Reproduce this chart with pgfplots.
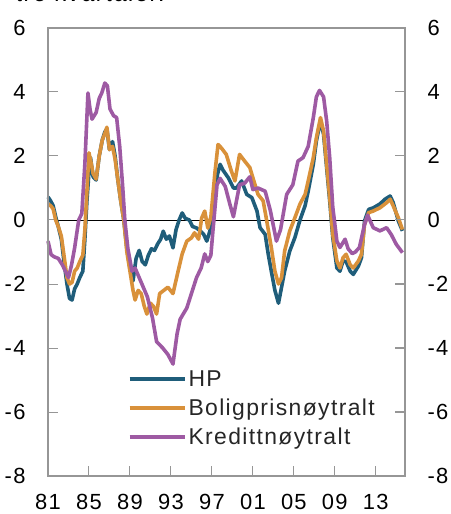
\documentclass[border=0pt]{standalone}
\usepackage{fontspec}
\setmainfont{Liberation Sans}[LetterSpace=6]
\usepackage{pgfplots}
\pgfplotsset{compat=1.18}
\usetikzlibrary{calc}
\definecolor{hpblue}{RGB}{31,93,122}
\definecolor{bpnorange}{RGB}{217,145,58}
\definecolor{krpurple}{RGB}{158,90,163}
\definecolor{frame}{RGB}{150,150,150}

\pgfplotsset{
  base/.style={
    width=357bp, height=448bp, scale only axis,
    xmin=1981, xmax=2015.85, ymin=-8, ymax=6,
    ytick={-8,-6,...,6},
    yticklabels={-8,-6,-4,-2,0,2,4,6},
    tick align=inside,
    major tick length=10bp,
    tick style={frame, line width=1bp},
    axis line style={frame, line width=1.3bp},
    tick label style={font=\fontsize{22}{26}\selectfont},
    clip=false,
  },
}

\begin{document}
\begin{tikzpicture}
\begin{axis}[base,
    xtick={1985,1989,...,2013}, xtick pos=bottom,
    extra x ticks={1981}, extra x tick style={major tick length=0pt},
    extra x tick labels={81},
    xticklabels={85,89,93,97,01,05,09,13},
    ytick pos=both, yticklabel pos=left,
    yticklabel style={xshift=-19bp},
    xticklabel style={yshift=-15bp},
    legend style={draw=none, fill=none, at={(0.215,0.245)}, anchor=north west,
      font=\fontsize{23}{25}\selectfont, row sep=7bp, text=black!85},
    legend cell align=left,
    legend image code/.code={\draw[#1] (0bp,0bp) -- (55bp,0bp);},
]
\coordinate (SW) at (rel axis cs:0,0);
\addplot[black, line width=0.9bp, forget plot] coordinates {(1981.9,0)(2014.85,0)};
\addplot[black, line width=0.9bp, forget plot] coordinates {(1982.1,6)(2014.65,6)};

\addplot[hpblue, line width=3.6bp, line join=round] coordinates {
(1981.0,0.72)(1981.25,0.6)(1981.5,0.45)(1981.75,0.1)(1982.0,-0.2)(1982.3,-0.6)
(1982.6,-1.4)(1982.85,-2.0)(1983.1,-2.45)(1983.35,-2.5)(1983.6,-2.15)(1983.85,-2.0)
(1984.1,-1.8)(1984.4,-1.6)(1984.6,-0.6)(1984.8,0.6)(1985.0,1.5)(1985.15,1.95)
(1985.4,1.35)(1985.7,1.25)(1986.0,2.0)(1986.3,2.5)(1986.55,2.75)(1986.75,2.85)
(1987.0,2.2)(1987.3,2.45)(1987.55,2.0)(1987.8,1.3)(1988.1,0.6)(1988.4,0.0)
(1988.7,-0.9)(1989.0,-1.5)(1989.3,-1.9)(1989.6,-1.2)(1989.9,-0.95)(1990.2,-1.3)
(1990.5,-1.4)(1990.8,-1.1)(1991.1,-0.9)(1991.4,-0.95)(1991.7,-0.75)(1992.0,-0.6)
(1992.25,-0.35)(1992.55,-0.6)(1992.85,-0.5)(1993.2,-0.87)(1993.5,-0.3)(1993.8,0.0)
(1994.1,0.22)(1994.4,0.05)(1994.8,0.0)(1995.1,-0.2)(1995.5,-0.25)(1995.9,-0.35)
(1996.2,-0.45)(1996.5,-0.66)(1996.8,-0.35)(1997.0,-0.03)(1997.3,0.8)(1997.55,1.43)
(1997.8,1.74)(1998.1,1.55)(1998.6,1.32)(1999.1,1.0)(1999.4,1.0)(1999.9,1.22)
(2000.4,0.8)(2000.9,0.7)(2001.4,0.28)(2001.7,-0.24)(2002.2,-0.45)(2002.5,-1.07)
(2002.8,-1.6)(2003.15,-2.2)(2003.5,-2.6)(2003.8,-2.1)(2004.1,-1.6)(2004.6,-0.97)
(2005.1,-0.55)(2005.6,0.0)(2006.1,0.45)(2006.4,0.9)(2006.9,1.74)(2007.2,2.47)
(2007.6,3.1)(2007.9,2.68)(2008.2,1.64)(2008.5,0.6)(2008.8,-0.55)(2009.2,-1.5)
(2009.5,-1.6)(2009.8,-1.28)(2010.1,-1.3)(2010.5,-1.6)(2010.8,-1.7)(2011.3,-1.44)
(2011.6,-1.18)(2011.9,-0.03)(2012.3,0.33)(2012.75,0.38)(2013.4,0.5)(2013.9,0.65)
(2014.4,0.75)(2014.7,0.54)(2015.2,-0.03)(2015.6,-0.34)
};
\addlegendentry{HP}

\addplot[bpnorange, line width=3.6bp, line join=round] coordinates {
(1981.0,0.5)(1981.25,0.45)(1981.5,0.35)(1981.75,0.0)(1982.0,-0.2)(1982.3,-0.5)
(1982.6,-1.2)(1982.85,-1.8)(1983.1,-2.0)(1983.35,-1.95)(1983.6,-1.6)(1983.85,-1.5)
(1984.1,-1.3)(1984.4,-1.1)(1984.6,-0.3)(1984.8,0.9)(1985.0,2.1)(1985.2,1.8)
(1985.4,1.45)(1985.7,1.28)(1986.0,2.0)(1986.3,2.5)(1986.55,2.7)(1986.75,2.9)
(1987.0,2.2)(1987.3,2.3)(1987.55,1.9)(1987.8,1.3)(1988.1,0.6)(1988.4,0.0)
(1988.7,-1.0)(1989.0,-1.6)(1989.3,-2.2)(1989.5,-2.5)(1989.8,-2.2)(1990.1,-2.3)
(1990.4,-2.7)(1990.65,-2.94)(1991.0,-2.6)(1991.3,-2.7)(1991.6,-2.94)(1991.9,-2.3)
(1992.3,-2.2)(1992.7,-2.1)(1993.2,-2.3)(1993.7,-1.6)(1994.1,-1.06)(1994.55,-0.66)
(1995.0,-0.56)(1995.3,-0.4)(1995.7,-0.6)(1996.0,0.06)(1996.3,0.28)(1996.6,-0.25)
(1996.9,0.1)(1997.3,1.5)(1997.6,2.36)(1997.9,2.26)(1998.4,2.05)(1998.9,1.53)
(1999.25,1.22)(1999.7,2.05)(2000.2,1.84)(2000.7,1.64)(2001.0,1.32)(2001.5,0.8)
(2002.0,0.6)(2002.3,0.07)(2002.8,-0.86)(2003.15,-1.6)(2003.5,-2.0)(2003.8,-1.8)
(2004.1,-0.97)(2004.6,-0.34)(2005.1,0.07)(2005.6,0.5)(2006.1,0.8)(2006.4,1.22)
(2006.9,1.95)(2007.2,2.57)(2007.6,3.2)(2007.9,2.78)(2008.2,1.74)(2008.5,0.7)
(2008.8,-0.45)(2009.2,-1.28)(2009.5,-1.5)(2009.8,-1.18)(2010.1,-1.07)(2010.5,-1.4)
(2010.8,-1.5)(2011.3,-1.28)(2011.6,-1.07)(2011.9,-0.14)(2012.3,0.23)(2012.75,0.28)
(2013.4,0.38)(2014.05,0.54)(2014.4,0.65)(2014.7,0.44)(2015.2,0.07)(2015.6,-0.3)
};
\addlegendentry{Boligprisnøytralt}

\addplot[krpurple, line width=3.6bp, line join=round] coordinates {
(1981.0,-0.66)(1981.3,-1.08)(1981.6,-1.15)(1982.0,-1.2)(1982.4,-1.4)(1982.7,-1.6)
(1983.0,-1.8)(1983.3,-1.4)(1983.6,-0.87)(1984.0,0.0)(1984.3,0.2)(1984.6,1.76)
(1984.9,3.97)(1985.1,3.47)(1985.3,3.15)(1985.7,3.36)(1986.0,3.8)(1986.25,3.97)
(1986.55,4.28)(1986.8,4.19)(1987.05,3.47)(1987.4,3.26)(1987.7,3.2)(1988.0,2.3)
(1988.3,1.0)(1988.5,0.0)(1988.8,-0.9)(1989.2,-1.6)(1989.5,-1.5)(1989.9,-1.8)
(1990.3,-2.1)(1990.7,-2.4)(1991.2,-3.06)(1991.6,-3.8)(1992.2,-4.0)(1992.7,-4.2)
(1993.2,-4.5)(1993.6,-3.56)(1993.9,-3.1)(1994.55,-2.75)(1995.0,-2.3)(1995.5,-1.8)
(1995.95,-1.5)(1996.3,-1.06)(1996.6,-1.3)(1996.9,-1.1)(1997.1,-0.34)(1997.5,1.1)
(1997.8,1.3)(1998.3,1.05)(1998.75,0.5)(1999.1,0.1)(1999.7,1.1)(2000.2,1.15)
(2000.7,1.35)(2001.0,0.95)(2001.5,1.0)(2002.2,0.9)(2002.7,0.3)(2003.3,-0.66)
(2003.7,-0.3)(2004.3,0.8)(2004.9,1.1)(2005.4,1.84)(2005.9,1.95)(2006.4,2.3)
(2006.9,3.2)(2007.2,3.85)(2007.5,4.05)(2007.9,3.85)(2008.2,3.1)(2008.5,1.95)
(2008.8,0.4)(2009.2,-0.66)(2009.5,-0.86)(2010.0,-0.6)(2010.3,-0.9)(2010.7,-1.05)
(2011.0,-1.0)(2011.4,-0.86)(2011.9,-0.14)(2012.2,0.15)(2012.75,-0.24)(2013.4,-0.34)
(2014.05,-0.24)(2014.5,-0.45)(2015.0,-0.76)(2015.6,-1.02)
};
\addlegendentry{Kredittnøytralt}
\end{axis}

\begin{axis}[base,
    xtick=\empty,
    ytick pos=right, yticklabel pos=right,
    yticklabel style={xshift=19bp},
]
\end{axis}

\node[anchor=base west, font=\itshape\fontsize{24}{28}\selectfont]
  at ($(SW)+(-35bp,474bp)$) {tre kvartaler.};
\pgfresetboundingbox
\path[use as bounding box] ($(SW)+(-48bp,-38bp)$) rectangle ($(SW)+(403bp,476bp)$);
\end{tikzpicture}
\end{document}
